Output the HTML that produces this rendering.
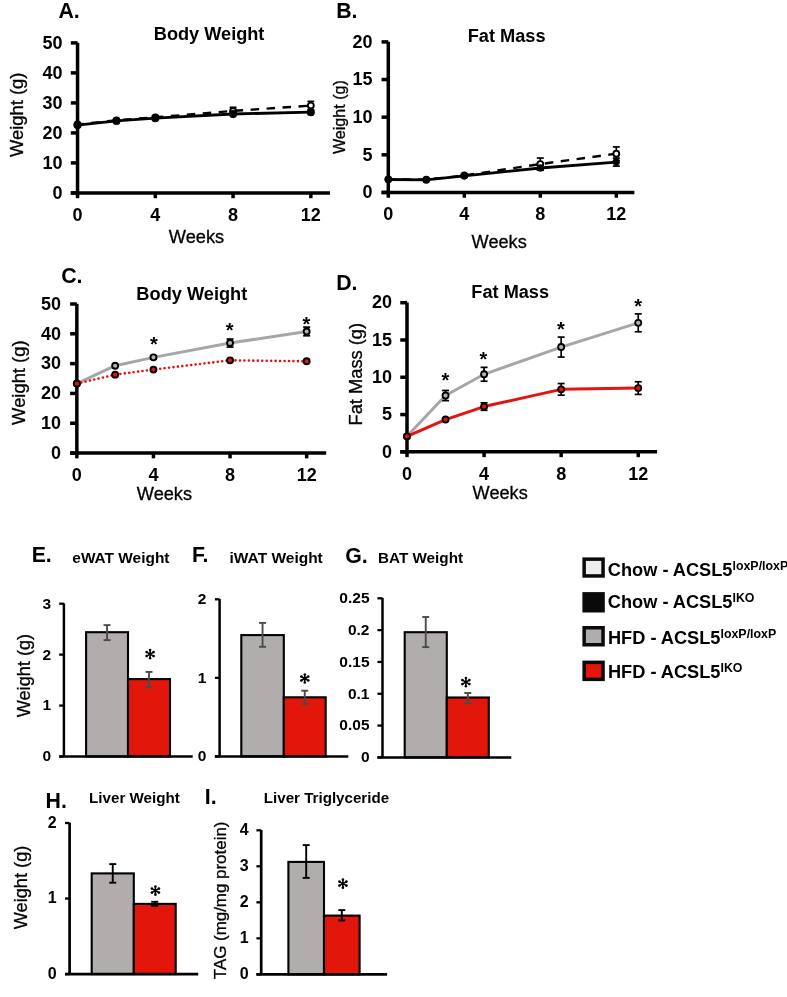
<!DOCTYPE html>
<html><head><meta charset="utf-8"><title>ACSL5 figure</title>
<style>html,body{margin:0;padding:0;background:#fff;width:787px;height:997px;overflow:hidden;position:relative;font-family:"Liberation Sans", sans-serif;}</style>
</head><body>
<svg width="787" height="997" viewBox="0 0 787 997" style="position:absolute;left:0;top:0;will-change:transform">
<g font-family='"Liberation Sans", sans-serif'>
<text x="58.47" y="17.80" font-size="21.3" font-weight="bold" text-anchor="start" fill="#000" >A.</text>
<text x="153.79" y="39.80" font-size="18" font-weight="bold" textLength="110.63" lengthAdjust="spacingAndGlyphs">Body Weight</text>
<line x1="77.55" y1="42.70" x2="77.55" y2="194.65" stroke="#000" stroke-width="3.5" />
<line x1="70.80" y1="192.90" x2="77.55" y2="192.90" stroke="#000" stroke-width="3.5" />
<text x="62.60" y="198.60" font-size="18" font-weight="bold" text-anchor="end" fill="#000" >0</text>
<line x1="70.80" y1="162.90" x2="77.55" y2="162.90" stroke="#000" stroke-width="3.5" />
<text x="62.60" y="168.60" font-size="18" font-weight="bold" text-anchor="end" fill="#000" >10</text>
<line x1="70.80" y1="132.90" x2="77.55" y2="132.90" stroke="#000" stroke-width="3.5" />
<text x="62.60" y="138.60" font-size="18" font-weight="bold" text-anchor="end" fill="#000" >20</text>
<line x1="70.80" y1="102.90" x2="77.55" y2="102.90" stroke="#000" stroke-width="3.5" />
<text x="62.60" y="108.60" font-size="18" font-weight="bold" text-anchor="end" fill="#000" >30</text>
<line x1="70.80" y1="72.90" x2="77.55" y2="72.90" stroke="#000" stroke-width="3.5" />
<text x="62.60" y="78.60" font-size="18" font-weight="bold" text-anchor="end" fill="#000" >40</text>
<line x1="70.80" y1="42.90" x2="77.55" y2="42.90" stroke="#000" stroke-width="3.5" />
<text x="62.60" y="48.60" font-size="18" font-weight="bold" text-anchor="end" fill="#000" >50</text>
<line x1="70.80" y1="192.90" x2="330.00" y2="192.90" stroke="#000" stroke-width="3.5" />
<line x1="77.55" y1="192.90" x2="77.55" y2="198.20" stroke="#000" stroke-width="3.5" />
<text x="77.55" y="220.60" font-size="18" font-weight="bold" text-anchor="middle" fill="#000" >0</text>
<line x1="155.31" y1="192.90" x2="155.31" y2="198.20" stroke="#000" stroke-width="3.5" />
<text x="155.31" y="220.60" font-size="18" font-weight="bold" text-anchor="middle" fill="#000" >4</text>
<line x1="233.07" y1="192.90" x2="233.07" y2="198.20" stroke="#000" stroke-width="3.5" />
<text x="233.07" y="220.60" font-size="18" font-weight="bold" text-anchor="middle" fill="#000" >8</text>
<line x1="310.83" y1="192.90" x2="310.83" y2="198.20" stroke="#000" stroke-width="3.5" />
<text x="310.83" y="220.60" font-size="18" font-weight="bold" text-anchor="middle" fill="#000" >12</text>
<text x="168.82" y="243.30" font-size="18" font-weight="normal" textLength="55.33" lengthAdjust="spacingAndGlyphs" stroke="#000" stroke-width="0.3">Weeks</text>
<text transform="translate(23.40,157.08) rotate(-90)" x="0" y="0" font-size="18" font-weight="normal" textLength="84.42" lengthAdjust="spacingAndGlyphs" stroke="#000" stroke-width="0.3">Weight (g)</text>
<polyline points="77.55,124.50 116.43,120.30 155.31,117.30 233.07,110.91 310.83,105.60" fill="none" stroke="#000" stroke-width="2.4" stroke-linejoin="round" stroke-dasharray="8.5,7.5" stroke-dashoffset="2.3"/>
<circle cx="77.55" cy="124.50" r="2.95" fill="#fff" stroke="#000" stroke-width="1.9"/>
<circle cx="116.43" cy="120.30" r="2.95" fill="#fff" stroke="#000" stroke-width="1.9"/>
<line x1="155.31" y1="115.80" x2="155.31" y2="118.80" stroke="#000" stroke-width="1.7" />
<line x1="151.91" y1="115.80" x2="158.71" y2="115.80" stroke="#000" stroke-width="1.7" />
<line x1="151.91" y1="118.80" x2="158.71" y2="118.80" stroke="#000" stroke-width="1.7" />
<circle cx="155.31" cy="117.30" r="2.95" fill="#fff" stroke="#000" stroke-width="1.9"/>
<line x1="233.07" y1="107.31" x2="233.07" y2="114.51" stroke="#000" stroke-width="1.7" />
<line x1="229.67" y1="107.31" x2="236.47" y2="107.31" stroke="#000" stroke-width="1.7" />
<line x1="229.67" y1="114.51" x2="236.47" y2="114.51" stroke="#000" stroke-width="1.7" />
<circle cx="233.07" cy="110.91" r="2.95" fill="#fff" stroke="#000" stroke-width="1.9"/>
<line x1="310.83" y1="101.40" x2="310.83" y2="109.80" stroke="#000" stroke-width="1.7" />
<line x1="307.43" y1="101.40" x2="314.23" y2="101.40" stroke="#000" stroke-width="1.7" />
<line x1="307.43" y1="109.80" x2="314.23" y2="109.80" stroke="#000" stroke-width="1.7" />
<circle cx="310.83" cy="105.60" r="2.95" fill="#fff" stroke="#000" stroke-width="1.9"/>
<polyline points="77.55,125.10 116.43,120.90 155.31,118.20 233.07,114.00 310.83,112.20" fill="none" stroke="#000" stroke-width="2.8" stroke-linejoin="round" />
<circle cx="77.55" cy="125.10" r="3.9" fill="#000" stroke="#000" stroke-width="0.4"/>
<circle cx="116.43" cy="120.90" r="3.9" fill="#000" stroke="#000" stroke-width="0.4"/>
<circle cx="155.31" cy="118.20" r="3.9" fill="#000" stroke="#000" stroke-width="0.4"/>
<circle cx="233.07" cy="114.00" r="3.9" fill="#000" stroke="#000" stroke-width="0.4"/>
<circle cx="310.83" cy="112.20" r="3.9" fill="#000" stroke="#000" stroke-width="0.4"/>
<text x="336.17" y="17.80" font-size="21.3" font-weight="bold" text-anchor="start" fill="#000" >B.</text>
<text x="467.68" y="41.70" font-size="18" font-weight="bold" textLength="77.97" lengthAdjust="spacingAndGlyphs">Fat Mass</text>
<line x1="388.30" y1="41.70" x2="388.30" y2="194.20" stroke="#000" stroke-width="3.5" />
<line x1="381.55" y1="192.45" x2="388.30" y2="192.45" stroke="#000" stroke-width="3.5" />
<text x="372.60" y="198.15" font-size="18" font-weight="bold" text-anchor="end" fill="#000" >0</text>
<line x1="381.55" y1="154.81" x2="388.30" y2="154.81" stroke="#000" stroke-width="3.5" />
<text x="372.60" y="160.51" font-size="18" font-weight="bold" text-anchor="end" fill="#000" >5</text>
<line x1="381.55" y1="117.17" x2="388.30" y2="117.17" stroke="#000" stroke-width="3.5" />
<text x="372.60" y="122.88" font-size="18" font-weight="bold" text-anchor="end" fill="#000" >10</text>
<line x1="381.55" y1="79.54" x2="388.30" y2="79.54" stroke="#000" stroke-width="3.5" />
<text x="372.60" y="85.24" font-size="18" font-weight="bold" text-anchor="end" fill="#000" >15</text>
<line x1="381.55" y1="41.90" x2="388.30" y2="41.90" stroke="#000" stroke-width="3.5" />
<text x="372.60" y="47.60" font-size="18" font-weight="bold" text-anchor="end" fill="#000" >20</text>
<line x1="381.55" y1="192.45" x2="634.40" y2="192.45" stroke="#000" stroke-width="3.5" />
<line x1="388.30" y1="192.45" x2="388.30" y2="197.75" stroke="#000" stroke-width="3.5" />
<text x="388.30" y="219.80" font-size="18" font-weight="bold" text-anchor="middle" fill="#000" >0</text>
<line x1="464.30" y1="192.45" x2="464.30" y2="197.75" stroke="#000" stroke-width="3.5" />
<text x="464.30" y="219.80" font-size="18" font-weight="bold" text-anchor="middle" fill="#000" >4</text>
<line x1="540.30" y1="192.45" x2="540.30" y2="197.75" stroke="#000" stroke-width="3.5" />
<text x="540.30" y="219.80" font-size="18" font-weight="bold" text-anchor="middle" fill="#000" >8</text>
<line x1="616.30" y1="192.45" x2="616.30" y2="197.75" stroke="#000" stroke-width="3.5" />
<text x="616.30" y="219.80" font-size="18" font-weight="bold" text-anchor="middle" fill="#000" >12</text>
<text x="471.62" y="248.10" font-size="18" font-weight="normal" textLength="55.13" lengthAdjust="spacingAndGlyphs" stroke="#000" stroke-width="0.3">Weeks</text>
<text transform="translate(345.00,154.07) rotate(-90)" x="0" y="0" font-size="16" font-weight="normal" textLength="73.96" lengthAdjust="spacingAndGlyphs" stroke="#000" stroke-width="0.3">Weight (g)</text>
<polyline points="388.30,179.28 426.30,179.65 464.30,175.51 540.30,164.07 616.30,153.68" fill="none" stroke="#000" stroke-width="2.4" stroke-linejoin="round" stroke-dasharray="8.5,7.5" stroke-dashoffset="2.3"/>
<circle cx="388.30" cy="179.28" r="2.95" fill="#fff" stroke="#000" stroke-width="1.9"/>
<circle cx="426.30" cy="179.65" r="2.95" fill="#fff" stroke="#000" stroke-width="1.9"/>
<line x1="464.30" y1="174.01" x2="464.30" y2="177.02" stroke="#000" stroke-width="1.7" />
<line x1="460.80" y1="174.01" x2="467.80" y2="174.01" stroke="#000" stroke-width="1.7" />
<line x1="460.80" y1="177.02" x2="467.80" y2="177.02" stroke="#000" stroke-width="1.7" />
<circle cx="464.30" cy="175.51" r="2.95" fill="#fff" stroke="#000" stroke-width="1.9"/>
<line x1="540.30" y1="158.05" x2="540.30" y2="170.09" stroke="#000" stroke-width="1.7" />
<line x1="536.80" y1="158.05" x2="543.80" y2="158.05" stroke="#000" stroke-width="1.7" />
<line x1="536.80" y1="170.09" x2="543.80" y2="170.09" stroke="#000" stroke-width="1.7" />
<circle cx="540.30" cy="164.07" r="2.95" fill="#fff" stroke="#000" stroke-width="1.9"/>
<line x1="616.30" y1="146.91" x2="616.30" y2="160.46" stroke="#000" stroke-width="1.7" />
<line x1="612.80" y1="146.91" x2="619.80" y2="146.91" stroke="#000" stroke-width="1.7" />
<line x1="612.80" y1="160.46" x2="619.80" y2="160.46" stroke="#000" stroke-width="1.7" />
<circle cx="616.30" cy="153.68" r="2.95" fill="#fff" stroke="#000" stroke-width="1.9"/>
<polyline points="388.30,179.50 426.30,179.80 464.30,175.89 540.30,167.99 616.30,162.11" fill="none" stroke="#000" stroke-width="2.8" stroke-linejoin="round" />
<circle cx="388.30" cy="179.50" r="3.4" fill="#000" stroke="#000" stroke-width="0.4"/>
<circle cx="426.30" cy="179.80" r="3.4" fill="#000" stroke="#000" stroke-width="0.4"/>
<line x1="464.30" y1="175.14" x2="464.30" y2="176.64" stroke="#000" stroke-width="1.7" />
<line x1="460.80" y1="175.14" x2="467.80" y2="175.14" stroke="#000" stroke-width="1.7" />
<line x1="460.80" y1="176.64" x2="467.80" y2="176.64" stroke="#000" stroke-width="1.7" />
<circle cx="464.30" cy="175.89" r="3.4" fill="#000" stroke="#000" stroke-width="0.4"/>
<line x1="540.30" y1="165.73" x2="540.30" y2="170.24" stroke="#000" stroke-width="1.7" />
<line x1="536.80" y1="165.73" x2="543.80" y2="165.73" stroke="#000" stroke-width="1.7" />
<line x1="536.80" y1="170.24" x2="543.80" y2="170.24" stroke="#000" stroke-width="1.7" />
<circle cx="540.30" cy="167.99" r="3.4" fill="#000" stroke="#000" stroke-width="0.4"/>
<line x1="616.30" y1="158.12" x2="616.30" y2="166.10" stroke="#000" stroke-width="1.7" />
<line x1="612.80" y1="158.12" x2="619.80" y2="158.12" stroke="#000" stroke-width="1.7" />
<line x1="612.80" y1="166.10" x2="619.80" y2="166.10" stroke="#000" stroke-width="1.7" />
<circle cx="616.30" cy="162.11" r="3.4" fill="#000" stroke="#000" stroke-width="0.4"/>
<text x="61.23" y="282.60" font-size="21.3" font-weight="bold" text-anchor="start" fill="#000" >C.</text>
<text x="136.39" y="299.80" font-size="18" font-weight="bold" textLength="110.94" lengthAdjust="spacingAndGlyphs">Body Weight</text>
<line x1="76.85" y1="303.80" x2="76.85" y2="454.80" stroke="#000" stroke-width="3.5" />
<line x1="70.10" y1="453.05" x2="76.85" y2="453.05" stroke="#000" stroke-width="3.5" />
<text x="61.00" y="458.75" font-size="18" font-weight="bold" text-anchor="end" fill="#000" >0</text>
<line x1="70.10" y1="423.24" x2="76.85" y2="423.24" stroke="#000" stroke-width="3.5" />
<text x="61.00" y="428.94" font-size="18" font-weight="bold" text-anchor="end" fill="#000" >10</text>
<line x1="70.10" y1="393.43" x2="76.85" y2="393.43" stroke="#000" stroke-width="3.5" />
<text x="61.00" y="399.13" font-size="18" font-weight="bold" text-anchor="end" fill="#000" >20</text>
<line x1="70.10" y1="363.62" x2="76.85" y2="363.62" stroke="#000" stroke-width="3.5" />
<text x="61.00" y="369.32" font-size="18" font-weight="bold" text-anchor="end" fill="#000" >30</text>
<line x1="70.10" y1="333.81" x2="76.85" y2="333.81" stroke="#000" stroke-width="3.5" />
<text x="61.00" y="339.51" font-size="18" font-weight="bold" text-anchor="end" fill="#000" >40</text>
<line x1="70.10" y1="304.00" x2="76.85" y2="304.00" stroke="#000" stroke-width="3.5" />
<text x="61.00" y="309.70" font-size="18" font-weight="bold" text-anchor="end" fill="#000" >50</text>
<line x1="70.10" y1="453.05" x2="326.20" y2="453.05" stroke="#000" stroke-width="3.5" />
<line x1="76.85" y1="453.05" x2="76.85" y2="458.35" stroke="#000" stroke-width="3.5" />
<text x="76.85" y="480.80" font-size="18" font-weight="bold" text-anchor="middle" fill="#000" >0</text>
<line x1="153.45" y1="453.05" x2="153.45" y2="458.35" stroke="#000" stroke-width="3.5" />
<text x="153.45" y="480.80" font-size="18" font-weight="bold" text-anchor="middle" fill="#000" >4</text>
<line x1="230.05" y1="453.05" x2="230.05" y2="458.35" stroke="#000" stroke-width="3.5" />
<text x="230.05" y="480.80" font-size="18" font-weight="bold" text-anchor="middle" fill="#000" >8</text>
<line x1="306.65" y1="453.05" x2="306.65" y2="458.35" stroke="#000" stroke-width="3.5" />
<text x="306.65" y="480.80" font-size="18" font-weight="bold" text-anchor="middle" fill="#000" >12</text>
<text x="136.82" y="499.60" font-size="18" font-weight="normal" textLength="55.23" lengthAdjust="spacingAndGlyphs" stroke="#000" stroke-width="0.3">Weeks</text>
<text transform="translate(25.00,424.88) rotate(-90)" x="0" y="0" font-size="18" font-weight="normal" textLength="84.42" lengthAdjust="spacingAndGlyphs" stroke="#000" stroke-width="0.3">Weight (g)</text>
<polyline points="76.85,383.59 115.15,365.71 153.45,357.36 230.05,343.05 306.65,331.43" fill="none" stroke="#a6a6a6" stroke-width="3" stroke-linejoin="round" />
<circle cx="76.85" cy="383.59" r="3.0" fill="#b5b3b3" stroke="#000" stroke-width="1.9"/>
<circle cx="115.15" cy="365.71" r="3.0" fill="#b5b3b3" stroke="#000" stroke-width="1.9"/>
<line x1="153.45" y1="355.87" x2="153.45" y2="358.85" stroke="#000" stroke-width="1.7" />
<line x1="149.95" y1="355.87" x2="156.95" y2="355.87" stroke="#000" stroke-width="1.7" />
<line x1="149.95" y1="358.85" x2="156.95" y2="358.85" stroke="#000" stroke-width="1.7" />
<circle cx="153.45" cy="357.36" r="3.0" fill="#b5b3b3" stroke="#000" stroke-width="1.9"/>
<line x1="230.05" y1="339.03" x2="230.05" y2="347.08" stroke="#000" stroke-width="1.7" />
<line x1="226.55" y1="339.03" x2="233.55" y2="339.03" stroke="#000" stroke-width="1.7" />
<line x1="226.55" y1="347.08" x2="233.55" y2="347.08" stroke="#000" stroke-width="1.7" />
<circle cx="230.05" cy="343.05" r="3.0" fill="#b5b3b3" stroke="#000" stroke-width="1.9"/>
<line x1="306.65" y1="327.10" x2="306.65" y2="335.75" stroke="#000" stroke-width="1.7" />
<line x1="303.15" y1="327.10" x2="310.15" y2="327.10" stroke="#000" stroke-width="1.7" />
<line x1="303.15" y1="335.75" x2="310.15" y2="335.75" stroke="#000" stroke-width="1.7" />
<circle cx="306.65" cy="331.43" r="3.0" fill="#b5b3b3" stroke="#000" stroke-width="1.9"/>
<polyline points="76.85,383.59 115.15,374.65 153.45,369.58 230.05,360.34 306.65,361.24" fill="none" stroke="#e3120c" stroke-width="2.6" stroke-linejoin="round" stroke-dasharray="0.01,4.45" stroke-linecap="round"/>
<circle cx="76.85" cy="383.59" r="3.0" fill="#e5140e" stroke="#000" stroke-width="1.9"/>
<circle cx="115.15" cy="374.65" r="3.0" fill="#e5140e" stroke="#000" stroke-width="1.9"/>
<circle cx="153.45" cy="369.58" r="3.0" fill="#e5140e" stroke="#000" stroke-width="1.9"/>
<circle cx="230.05" cy="360.34" r="3.0" fill="#e5140e" stroke="#000" stroke-width="1.9"/>
<circle cx="306.65" cy="361.24" r="3.0" fill="#e5140e" stroke="#000" stroke-width="1.9"/>
<text x="153.90" y="351.04" font-size="20" font-weight="bold" text-anchor="middle" fill="#000" >*</text>
<text x="229.60" y="337.04" font-size="20" font-weight="bold" text-anchor="middle" fill="#000" >*</text>
<text x="306.50" y="331.24" font-size="20" font-weight="bold" text-anchor="middle" fill="#000" >*</text>
<text x="336.17" y="289.90" font-size="21.3" font-weight="bold" text-anchor="start" fill="#000" >D.</text>
<text x="471.39" y="297.70" font-size="18" font-weight="bold" textLength="77.66" lengthAdjust="spacingAndGlyphs">Fat Mass</text>
<line x1="407.00" y1="302.50" x2="407.00" y2="453.60" stroke="#000" stroke-width="3.5" />
<line x1="400.25" y1="451.85" x2="407.00" y2="451.85" stroke="#000" stroke-width="3.5" />
<text x="392.10" y="457.55" font-size="18" font-weight="bold" text-anchor="end" fill="#000" >0</text>
<line x1="400.25" y1="414.56" x2="407.00" y2="414.56" stroke="#000" stroke-width="3.5" />
<text x="392.10" y="420.26" font-size="18" font-weight="bold" text-anchor="end" fill="#000" >5</text>
<line x1="400.25" y1="377.27" x2="407.00" y2="377.27" stroke="#000" stroke-width="3.5" />
<text x="392.10" y="382.97" font-size="18" font-weight="bold" text-anchor="end" fill="#000" >10</text>
<line x1="400.25" y1="339.99" x2="407.00" y2="339.99" stroke="#000" stroke-width="3.5" />
<text x="392.10" y="345.69" font-size="18" font-weight="bold" text-anchor="end" fill="#000" >15</text>
<line x1="400.25" y1="302.70" x2="407.00" y2="302.70" stroke="#000" stroke-width="3.5" />
<text x="392.10" y="308.40" font-size="18" font-weight="bold" text-anchor="end" fill="#000" >20</text>
<line x1="400.25" y1="451.85" x2="657.10" y2="451.85" stroke="#000" stroke-width="3.5" />
<line x1="407.00" y1="451.85" x2="407.00" y2="457.15" stroke="#000" stroke-width="3.5" />
<text x="407.00" y="479.60" font-size="18" font-weight="bold" text-anchor="middle" fill="#000" >0</text>
<line x1="484.08" y1="451.85" x2="484.08" y2="457.15" stroke="#000" stroke-width="3.5" />
<text x="484.08" y="479.60" font-size="18" font-weight="bold" text-anchor="middle" fill="#000" >4</text>
<line x1="561.16" y1="451.85" x2="561.16" y2="457.15" stroke="#000" stroke-width="3.5" />
<text x="561.16" y="479.60" font-size="18" font-weight="bold" text-anchor="middle" fill="#000" >8</text>
<line x1="638.24" y1="451.85" x2="638.24" y2="457.15" stroke="#000" stroke-width="3.5" />
<text x="638.24" y="479.60" font-size="18" font-weight="bold" text-anchor="middle" fill="#000" >12</text>
<text x="472.62" y="498.80" font-size="18" font-weight="normal" textLength="55.13" lengthAdjust="spacingAndGlyphs" stroke="#000" stroke-width="0.3">Weeks</text>
<text transform="translate(362.30,425.50) rotate(-90)" x="0" y="0" font-size="18" font-weight="normal" textLength="102.63" lengthAdjust="spacingAndGlyphs" stroke="#000" stroke-width="0.3">Fat Mass (g)</text>
<polyline points="407.00,436.34 445.54,395.55 484.08,374.29 561.16,347.07 638.24,322.84" fill="none" stroke="#a6a6a6" stroke-width="3" stroke-linejoin="round" />
<circle cx="407.00" cy="436.34" r="3.05" fill="#b5b3b3" stroke="#000" stroke-width="1.8"/>
<line x1="445.54" y1="390.47" x2="445.54" y2="400.62" stroke="#000" stroke-width="1.7" />
<line x1="442.04" y1="390.47" x2="449.04" y2="390.47" stroke="#000" stroke-width="1.7" />
<line x1="442.04" y1="400.62" x2="449.04" y2="400.62" stroke="#000" stroke-width="1.7" />
<circle cx="445.54" cy="395.55" r="3.05" fill="#b5b3b3" stroke="#000" stroke-width="1.8"/>
<line x1="484.08" y1="367.36" x2="484.08" y2="381.23" stroke="#000" stroke-width="1.7" />
<line x1="480.58" y1="367.36" x2="487.58" y2="367.36" stroke="#000" stroke-width="1.7" />
<line x1="480.58" y1="381.23" x2="487.58" y2="381.23" stroke="#000" stroke-width="1.7" />
<circle cx="484.08" cy="374.29" r="3.05" fill="#b5b3b3" stroke="#000" stroke-width="1.8"/>
<line x1="561.16" y1="337.08" x2="561.16" y2="357.07" stroke="#000" stroke-width="1.7" />
<line x1="557.66" y1="337.08" x2="564.66" y2="337.08" stroke="#000" stroke-width="1.7" />
<line x1="557.66" y1="357.07" x2="564.66" y2="357.07" stroke="#000" stroke-width="1.7" />
<circle cx="561.16" cy="347.07" r="3.05" fill="#b5b3b3" stroke="#000" stroke-width="1.8"/>
<line x1="638.24" y1="313.89" x2="638.24" y2="331.78" stroke="#000" stroke-width="1.7" />
<line x1="634.74" y1="313.89" x2="641.74" y2="313.89" stroke="#000" stroke-width="1.7" />
<line x1="634.74" y1="331.78" x2="641.74" y2="331.78" stroke="#000" stroke-width="1.7" />
<circle cx="638.24" cy="322.84" r="3.05" fill="#b5b3b3" stroke="#000" stroke-width="1.8"/>
<polyline points="407.00,436.34 445.54,419.56 484.08,406.58 561.16,389.36 638.24,388.09" fill="none" stroke="#e5140e" stroke-width="3" stroke-linejoin="round" />
<circle cx="407.00" cy="436.34" r="3.05" fill="#e5140e" stroke="#000" stroke-width="1.8"/>
<line x1="445.54" y1="418.44" x2="445.54" y2="420.68" stroke="#000" stroke-width="1.7" />
<line x1="442.04" y1="418.44" x2="449.04" y2="418.44" stroke="#000" stroke-width="1.7" />
<line x1="442.04" y1="420.68" x2="449.04" y2="420.68" stroke="#000" stroke-width="1.7" />
<circle cx="445.54" cy="419.56" r="3.05" fill="#e5140e" stroke="#000" stroke-width="1.8"/>
<line x1="484.08" y1="402.85" x2="484.08" y2="410.31" stroke="#000" stroke-width="1.7" />
<line x1="480.58" y1="402.85" x2="487.58" y2="402.85" stroke="#000" stroke-width="1.7" />
<line x1="480.58" y1="410.31" x2="487.58" y2="410.31" stroke="#000" stroke-width="1.7" />
<circle cx="484.08" cy="406.58" r="3.05" fill="#e5140e" stroke="#000" stroke-width="1.8"/>
<line x1="561.16" y1="383.54" x2="561.16" y2="395.17" stroke="#000" stroke-width="1.7" />
<line x1="557.66" y1="383.54" x2="564.66" y2="383.54" stroke="#000" stroke-width="1.7" />
<line x1="557.66" y1="395.17" x2="564.66" y2="395.17" stroke="#000" stroke-width="1.7" />
<circle cx="561.16" cy="389.36" r="3.05" fill="#e5140e" stroke="#000" stroke-width="1.8"/>
<line x1="638.24" y1="381.75" x2="638.24" y2="394.43" stroke="#000" stroke-width="1.7" />
<line x1="634.74" y1="381.75" x2="641.74" y2="381.75" stroke="#000" stroke-width="1.7" />
<line x1="634.74" y1="394.43" x2="641.74" y2="394.43" stroke="#000" stroke-width="1.7" />
<circle cx="638.24" cy="388.09" r="3.05" fill="#e5140e" stroke="#000" stroke-width="1.8"/>
<text x="445.50" y="386.94" font-size="20" font-weight="bold" text-anchor="middle" fill="#000" >*</text>
<text x="483.50" y="365.54" font-size="20" font-weight="bold" text-anchor="middle" fill="#000" >*</text>
<text x="561.00" y="335.94" font-size="20" font-weight="bold" text-anchor="middle" fill="#000" >*</text>
<text x="638.10" y="313.09" font-size="20" font-weight="bold" text-anchor="middle" fill="#000" >*</text>
<text x="31.67" y="561.90" font-size="21.3" font-weight="bold" text-anchor="start" fill="#000" >E.</text>
<text x="72.31" y="563.20" font-size="15" font-weight="bold" textLength="97.17" lengthAdjust="spacingAndGlyphs">eWAT Weight</text>
<line x1="63.90" y1="603.40" x2="63.90" y2="756.50" stroke="#000" stroke-width="2.5" />
<line x1="59.20" y1="756.50" x2="63.90" y2="756.50" stroke="#000" stroke-width="2.3" />
<text x="51.10" y="761.40" font-size="15.5" font-weight="bold" text-anchor="end" fill="#000" >0</text>
<line x1="59.20" y1="705.57" x2="63.90" y2="705.57" stroke="#000" stroke-width="2.3" />
<text x="51.10" y="710.47" font-size="15.5" font-weight="bold" text-anchor="end" fill="#000" >1</text>
<line x1="59.20" y1="654.63" x2="63.90" y2="654.63" stroke="#000" stroke-width="2.3" />
<text x="51.10" y="659.53" font-size="15.5" font-weight="bold" text-anchor="end" fill="#000" >2</text>
<line x1="59.20" y1="603.70" x2="63.90" y2="603.70" stroke="#000" stroke-width="2.3" />
<text x="51.10" y="608.60" font-size="15.5" font-weight="bold" text-anchor="end" fill="#000" >3</text>
<rect x="86.10" y="632.20" width="41.90" height="124.30" fill="#b1adac" stroke="#000" stroke-width="2.1"/>
<rect x="128.00" y="679.10" width="42.00" height="77.40" fill="#e2160b" stroke="#000" stroke-width="2.1"/>
<line x1="107.05" y1="625.10" x2="107.05" y2="640.10" stroke="#4b4b4b" stroke-width="1.9" />
<line x1="103.55" y1="625.10" x2="110.55" y2="625.10" stroke="#4b4b4b" stroke-width="1.9" />
<line x1="103.55" y1="640.10" x2="110.55" y2="640.10" stroke="#4b4b4b" stroke-width="1.9" />
<line x1="149.00" y1="671.90" x2="149.00" y2="687.40" stroke="#4b4b4b" stroke-width="1.9" />
<line x1="145.50" y1="671.90" x2="152.50" y2="671.90" stroke="#4b4b4b" stroke-width="1.9" />
<line x1="145.50" y1="687.40" x2="152.50" y2="687.40" stroke="#4b4b4b" stroke-width="1.9" />
<line x1="59.20" y1="756.50" x2="192.70" y2="756.50" stroke="#000" stroke-width="2.5" />
<path d="M150.10,650.05L150.10,658.15M146.59,652.08L153.61,656.12M146.59,656.12L153.61,652.08" stroke="#000" stroke-width="1.6" fill="none"/>
<g fill="#000"><circle cx="150.10" cy="650.05" r="1.3"/><circle cx="150.10" cy="658.15" r="1.3"/><circle cx="146.59" cy="652.08" r="1.3"/><circle cx="153.61" cy="656.12" r="1.3"/><circle cx="146.59" cy="656.12" r="1.3"/><circle cx="153.61" cy="652.08" r="1.3"/></g>
<text transform="translate(30.20,717.28) rotate(-90)" x="0" y="0" font-size="18" font-weight="normal" textLength="83.40" lengthAdjust="spacingAndGlyphs" stroke="#000" stroke-width="0.3">Weight (g)</text>
<text x="191.97" y="562.30" font-size="21.3" font-weight="bold" text-anchor="start" fill="#000" >F.</text>
<text x="229.54" y="563.20" font-size="15" font-weight="bold" textLength="93.24" lengthAdjust="spacingAndGlyphs">iWAT Weight</text>
<line x1="219.60" y1="599.00" x2="219.60" y2="756.40" stroke="#000" stroke-width="2.5" />
<line x1="214.90" y1="756.40" x2="219.60" y2="756.40" stroke="#000" stroke-width="2.3" />
<text x="206.40" y="761.30" font-size="15.5" font-weight="bold" text-anchor="end" fill="#000" >0</text>
<line x1="214.90" y1="677.85" x2="219.60" y2="677.85" stroke="#000" stroke-width="2.3" />
<text x="206.40" y="682.75" font-size="15.5" font-weight="bold" text-anchor="end" fill="#000" >1</text>
<line x1="214.90" y1="599.30" x2="219.60" y2="599.30" stroke="#000" stroke-width="2.3" />
<text x="206.40" y="604.20" font-size="15.5" font-weight="bold" text-anchor="end" fill="#000" >2</text>
<rect x="241.30" y="635.10" width="42.50" height="121.30" fill="#b1adac" stroke="#000" stroke-width="2.1"/>
<rect x="283.80" y="697.30" width="41.90" height="59.10" fill="#e2160b" stroke="#000" stroke-width="2.1"/>
<line x1="262.55" y1="622.90" x2="262.55" y2="646.80" stroke="#4b4b4b" stroke-width="1.9" />
<line x1="259.05" y1="622.90" x2="266.05" y2="622.90" stroke="#4b4b4b" stroke-width="1.9" />
<line x1="259.05" y1="646.80" x2="266.05" y2="646.80" stroke="#4b4b4b" stroke-width="1.9" />
<line x1="304.75" y1="690.70" x2="304.75" y2="703.90" stroke="#4b4b4b" stroke-width="1.9" />
<line x1="301.25" y1="690.70" x2="308.25" y2="690.70" stroke="#4b4b4b" stroke-width="1.9" />
<line x1="301.25" y1="703.90" x2="308.25" y2="703.90" stroke="#4b4b4b" stroke-width="1.9" />
<line x1="214.90" y1="756.40" x2="348.30" y2="756.40" stroke="#000" stroke-width="2.5" />
<path d="M304.80,674.45L304.80,682.55M301.29,676.48L308.31,680.52M301.29,680.52L308.31,676.48" stroke="#000" stroke-width="1.6" fill="none"/>
<g fill="#000"><circle cx="304.80" cy="674.45" r="1.3"/><circle cx="304.80" cy="682.55" r="1.3"/><circle cx="301.29" cy="676.48" r="1.3"/><circle cx="308.31" cy="680.52" r="1.3"/><circle cx="301.29" cy="680.52" r="1.3"/><circle cx="308.31" cy="676.48" r="1.3"/></g>
<text x="345.23" y="562.50" font-size="21.3" font-weight="bold" text-anchor="start" fill="#000" >G.</text>
<text x="378.00" y="563.40" font-size="15" font-weight="bold" textLength="85.09" lengthAdjust="spacingAndGlyphs">BAT Weight</text>
<line x1="382.50" y1="598.00" x2="382.50" y2="757.40" stroke="#000" stroke-width="2.5" />
<line x1="377.40" y1="757.40" x2="382.50" y2="757.40" stroke="#000" stroke-width="2.3" />
<text x="369.50" y="762.30" font-size="15.5" font-weight="bold" text-anchor="end" fill="#000" >0</text>
<line x1="377.40" y1="725.58" x2="382.50" y2="725.58" stroke="#000" stroke-width="2.3" />
<text x="369.50" y="730.48" font-size="15.5" font-weight="bold" text-anchor="end" fill="#000" >0.05</text>
<line x1="377.40" y1="693.76" x2="382.50" y2="693.76" stroke="#000" stroke-width="2.3" />
<text x="369.50" y="698.66" font-size="15.5" font-weight="bold" text-anchor="end" fill="#000" >0.1</text>
<line x1="377.40" y1="661.94" x2="382.50" y2="661.94" stroke="#000" stroke-width="2.3" />
<text x="369.50" y="666.84" font-size="15.5" font-weight="bold" text-anchor="end" fill="#000" >0.15</text>
<line x1="377.40" y1="630.12" x2="382.50" y2="630.12" stroke="#000" stroke-width="2.3" />
<text x="369.50" y="635.02" font-size="15.5" font-weight="bold" text-anchor="end" fill="#000" >0.2</text>
<line x1="377.40" y1="598.30" x2="382.50" y2="598.30" stroke="#000" stroke-width="2.3" />
<text x="369.50" y="603.20" font-size="15.5" font-weight="bold" text-anchor="end" fill="#000" >0.25</text>
<rect x="404.70" y="632.20" width="42.10" height="125.20" fill="#b1adac" stroke="#000" stroke-width="2.1"/>
<rect x="446.80" y="697.50" width="42.00" height="59.90" fill="#e2160b" stroke="#000" stroke-width="2.1"/>
<line x1="425.75" y1="617.00" x2="425.75" y2="647.10" stroke="#4b4b4b" stroke-width="1.9" />
<line x1="422.25" y1="617.00" x2="429.25" y2="617.00" stroke="#4b4b4b" stroke-width="1.9" />
<line x1="422.25" y1="647.10" x2="429.25" y2="647.10" stroke="#4b4b4b" stroke-width="1.9" />
<line x1="467.80" y1="693.00" x2="467.80" y2="702.90" stroke="#4b4b4b" stroke-width="1.9" />
<line x1="464.30" y1="693.00" x2="471.30" y2="693.00" stroke="#4b4b4b" stroke-width="1.9" />
<line x1="464.30" y1="702.90" x2="471.30" y2="702.90" stroke="#4b4b4b" stroke-width="1.9" />
<line x1="377.40" y1="757.40" x2="511.30" y2="757.40" stroke="#000" stroke-width="2.5" />
<path d="M465.90,678.05L465.90,686.15M462.39,680.08L469.41,684.12M462.39,684.12L469.41,680.08" stroke="#000" stroke-width="1.6" fill="none"/>
<g fill="#000"><circle cx="465.90" cy="678.05" r="1.3"/><circle cx="465.90" cy="686.15" r="1.3"/><circle cx="462.39" cy="680.08" r="1.3"/><circle cx="469.41" cy="684.12" r="1.3"/><circle cx="462.39" cy="684.12" r="1.3"/><circle cx="469.41" cy="680.08" r="1.3"/></g>
<text x="45.57" y="807.70" font-size="21.3" font-weight="bold" text-anchor="start" fill="#000" >H.</text>
<text x="89.09" y="802.90" font-size="15" font-weight="bold" textLength="90.80" lengthAdjust="spacingAndGlyphs">Liver Weight</text>
<line x1="69.60" y1="822.70" x2="69.60" y2="974.05" stroke="#000" stroke-width="2.7" />
<line x1="65.00" y1="974.05" x2="69.60" y2="974.05" stroke="#000" stroke-width="2.3" />
<text x="56.70" y="978.95" font-size="16" font-weight="bold" text-anchor="end" fill="#000" >0</text>
<line x1="65.00" y1="898.52" x2="69.60" y2="898.52" stroke="#000" stroke-width="2.3" />
<text x="56.70" y="903.42" font-size="16" font-weight="bold" text-anchor="end" fill="#000" >1</text>
<line x1="65.00" y1="823.00" x2="69.60" y2="823.00" stroke="#000" stroke-width="2.3" />
<text x="56.70" y="827.90" font-size="16" font-weight="bold" text-anchor="end" fill="#000" >2</text>
<rect x="91.70" y="873.40" width="42.10" height="100.65" fill="#b1adac" stroke="#000" stroke-width="2.1"/>
<rect x="133.80" y="903.90" width="41.90" height="70.15" fill="#e2160b" stroke="#000" stroke-width="2.1"/>
<line x1="112.75" y1="864.10" x2="112.75" y2="882.70" stroke="#000" stroke-width="1.9" />
<line x1="109.25" y1="864.10" x2="116.25" y2="864.10" stroke="#000" stroke-width="1.9" />
<line x1="109.25" y1="882.70" x2="116.25" y2="882.70" stroke="#000" stroke-width="1.9" />
<line x1="154.75" y1="901.80" x2="154.75" y2="905.80" stroke="#000" stroke-width="1.9" />
<line x1="151.25" y1="901.80" x2="158.25" y2="901.80" stroke="#000" stroke-width="1.9" />
<line x1="151.25" y1="905.80" x2="158.25" y2="905.80" stroke="#000" stroke-width="1.9" />
<line x1="65.00" y1="974.05" x2="198.20" y2="974.05" stroke="#000" stroke-width="2.7" />
<path d="M155.40,886.55L155.40,894.65M151.89,888.58L158.91,892.62M151.89,892.62L158.91,888.58" stroke="#000" stroke-width="1.6" fill="none"/>
<g fill="#000"><circle cx="155.40" cy="886.55" r="1.3"/><circle cx="155.40" cy="894.65" r="1.3"/><circle cx="151.89" cy="888.58" r="1.3"/><circle cx="158.91" cy="892.62" r="1.3"/><circle cx="151.89" cy="892.62" r="1.3"/><circle cx="158.91" cy="888.58" r="1.3"/></g>
<text transform="translate(27.40,929.28) rotate(-90)" x="0" y="0" font-size="18" font-weight="normal" textLength="83.60" lengthAdjust="spacingAndGlyphs" stroke="#000" stroke-width="0.3">Weight (g)</text>
<text x="204.87" y="804.10" font-size="21.3" font-weight="bold" text-anchor="start" fill="#000" >I.</text>
<text x="263.79" y="803.00" font-size="15" font-weight="bold" textLength="125.32" lengthAdjust="spacingAndGlyphs">Liver Triglyceride</text>
<line x1="261.20" y1="830.00" x2="261.20" y2="974.35" stroke="#000" stroke-width="2.7" />
<line x1="256.40" y1="974.35" x2="261.20" y2="974.35" stroke="#000" stroke-width="2.3" />
<text x="248.60" y="979.25" font-size="16" font-weight="bold" text-anchor="end" fill="#000" >0</text>
<line x1="256.40" y1="938.34" x2="261.20" y2="938.34" stroke="#000" stroke-width="2.3" />
<text x="248.60" y="943.24" font-size="16" font-weight="bold" text-anchor="end" fill="#000" >1</text>
<line x1="256.40" y1="902.33" x2="261.20" y2="902.33" stroke="#000" stroke-width="2.3" />
<text x="248.60" y="907.23" font-size="16" font-weight="bold" text-anchor="end" fill="#000" >2</text>
<line x1="256.40" y1="866.31" x2="261.20" y2="866.31" stroke="#000" stroke-width="2.3" />
<text x="248.60" y="871.21" font-size="16" font-weight="bold" text-anchor="end" fill="#000" >3</text>
<line x1="256.40" y1="830.30" x2="261.20" y2="830.30" stroke="#000" stroke-width="2.3" />
<text x="248.60" y="835.20" font-size="16" font-weight="bold" text-anchor="end" fill="#000" >4</text>
<rect x="288.40" y="861.90" width="35.60" height="112.45" fill="#b1adac" stroke="#000" stroke-width="2.1"/>
<rect x="324.00" y="915.60" width="35.60" height="58.75" fill="#e2160b" stroke="#000" stroke-width="2.1"/>
<line x1="306.20" y1="845.10" x2="306.20" y2="877.90" stroke="#000" stroke-width="1.9" />
<line x1="302.70" y1="845.10" x2="309.70" y2="845.10" stroke="#000" stroke-width="1.9" />
<line x1="302.70" y1="877.90" x2="309.70" y2="877.90" stroke="#000" stroke-width="1.9" />
<line x1="341.80" y1="910.10" x2="341.80" y2="920.50" stroke="#000" stroke-width="1.9" />
<line x1="338.30" y1="910.10" x2="345.30" y2="910.10" stroke="#000" stroke-width="1.9" />
<line x1="338.30" y1="920.50" x2="345.30" y2="920.50" stroke="#000" stroke-width="1.9" />
<line x1="256.40" y1="974.35" x2="387.10" y2="974.35" stroke="#000" stroke-width="2.7" />
<path d="M342.90,879.55L342.90,887.65M339.39,881.58L346.41,885.62M339.39,885.62L346.41,881.58" stroke="#000" stroke-width="1.6" fill="none"/>
<g fill="#000"><circle cx="342.90" cy="879.55" r="1.3"/><circle cx="342.90" cy="887.65" r="1.3"/><circle cx="339.39" cy="881.58" r="1.3"/><circle cx="346.41" cy="885.62" r="1.3"/><circle cx="339.39" cy="885.62" r="1.3"/><circle cx="346.41" cy="881.58" r="1.3"/></g>
<text transform="translate(226.30,979.18) rotate(-90)" x="0" y="0" font-size="16.8" font-weight="normal" textLength="157.62" lengthAdjust="spacingAndGlyphs" stroke="#000" stroke-width="0.3">TAG (mg/mg protein)</text>
<rect x="584.15" y="559.15" width="18.90" height="16.80" fill="#eeeeee" stroke="#0a0a0a" stroke-width="3.5"/>
<text x="607.85" y="575.60" font-size="18.2" font-weight="bold">Chow - ACSL5<tspan font-size="12.4" dy="-6.0">loxP/loxP</tspan></text>
<rect x="582.4" y="592.10" width="22.40" height="20.40" fill="#0a0a0a"/>
<text x="607.85" y="608.40" font-size="18.2" font-weight="bold">Chow - ACSL5<tspan font-size="12.4" dy="-6.0">IKO</tspan></text>
<rect x="584.15" y="627.75" width="18.90" height="17.00" fill="#b1adac" stroke="#0a0a0a" stroke-width="3.5"/>
<text x="607.98" y="644.00" font-size="18.2" font-weight="bold">HFD - ACSL5<tspan font-size="12.4" dy="-6.0">loxP/loxP</tspan></text>
<rect x="584.15" y="662.35" width="18.90" height="17.00" fill="#e2160b" stroke="#0a0a0a" stroke-width="3.5"/>
<text x="607.98" y="678.30" font-size="18.2" font-weight="bold">HFD - ACSL5<tspan font-size="12.4" dy="-6.0">IKO</tspan></text>
</g></svg>
</body></html>
